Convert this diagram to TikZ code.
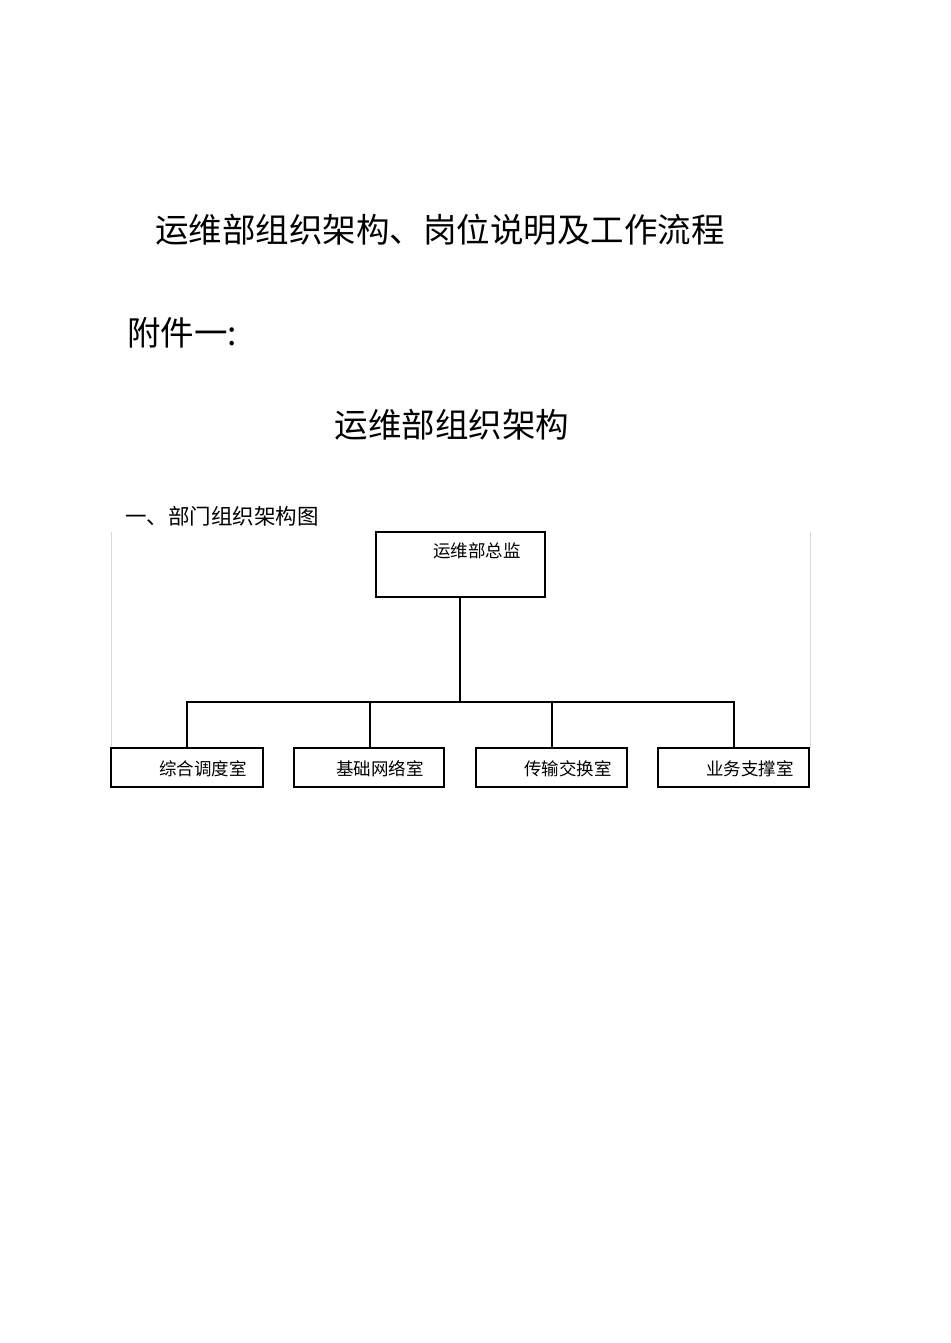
\documentclass[tikz,border=0pt]{standalone}
\usepackage{fontspec}
\setmainfont{Noto Sans CJK SC}
\begin{document}
\begin{tikzpicture}[x=1pt,y=-1pt,
  box/.style={draw,line width=1.2pt},
  lbl/.style={font=\fontsize{17.5}{20}\selectfont,inner sep=0pt},
  conn/.style={line width=2pt}]
\useasboundingbox[fill=white] (0,0) rectangle (950,1343);
\node[inner sep=0pt,font=\fontsize{33.5}{38}\selectfont] (t1) at (440,230) {运维部组织架构、岗位说明及工作流程};
\node[inner sep=0pt,anchor=west,font=\fontsize{33.5}{38}\selectfont] (t2) at (127,333) {附件一:};
\node[inner sep=0pt,font=\fontsize{33.5}{38}\selectfont] (t3) at (452,425) {运维部组织架构};
\node[inner sep=0pt,anchor=west,font=\fontsize{21.5}{24}\selectfont] (t4) at (125,516) {一、部门组织架构图};
\draw[gray!30,line width=0.8pt] (111,532) -- (111,748);
\draw[gray!30,line width=0.8pt] (810,532) -- (810,748);
\draw[box] (376,532) rectangle (545,597);
\node[lbl] (top) at (477,551) {运维部总监};
\coordinate (tb) at (460,597);
\coordinate (hj) at (460,702);
\draw[box] (111,748) rectangle (263,787);
\draw[box] (294,748) rectangle (444,787);
\draw[box] (476,748) rectangle (627,787);
\draw[box] (658,748) rectangle (809,787);
\node[lbl] (b1) at (203,769) {综合调度室};
\node[lbl] (b2) at (380,769) {基础网络室};
\node[lbl] (b3) at (568,769) {传输交换室};
\node[lbl] (b4) at (750,769) {业务支撑室};
\coordinate (c1) at (187,748);
\coordinate (c2) at (370,748);
\coordinate (c3) at (552,748);
\coordinate (c4) at (734,748);
\draw[conn] (tb) -- (hj);
\draw[conn] (c1) |- (hj) -| (c4);
\draw[conn] (c2) -- (c2 |- hj);
\draw[conn] (c3) -- (c3 |- hj);
\end{tikzpicture}
\end{document}
